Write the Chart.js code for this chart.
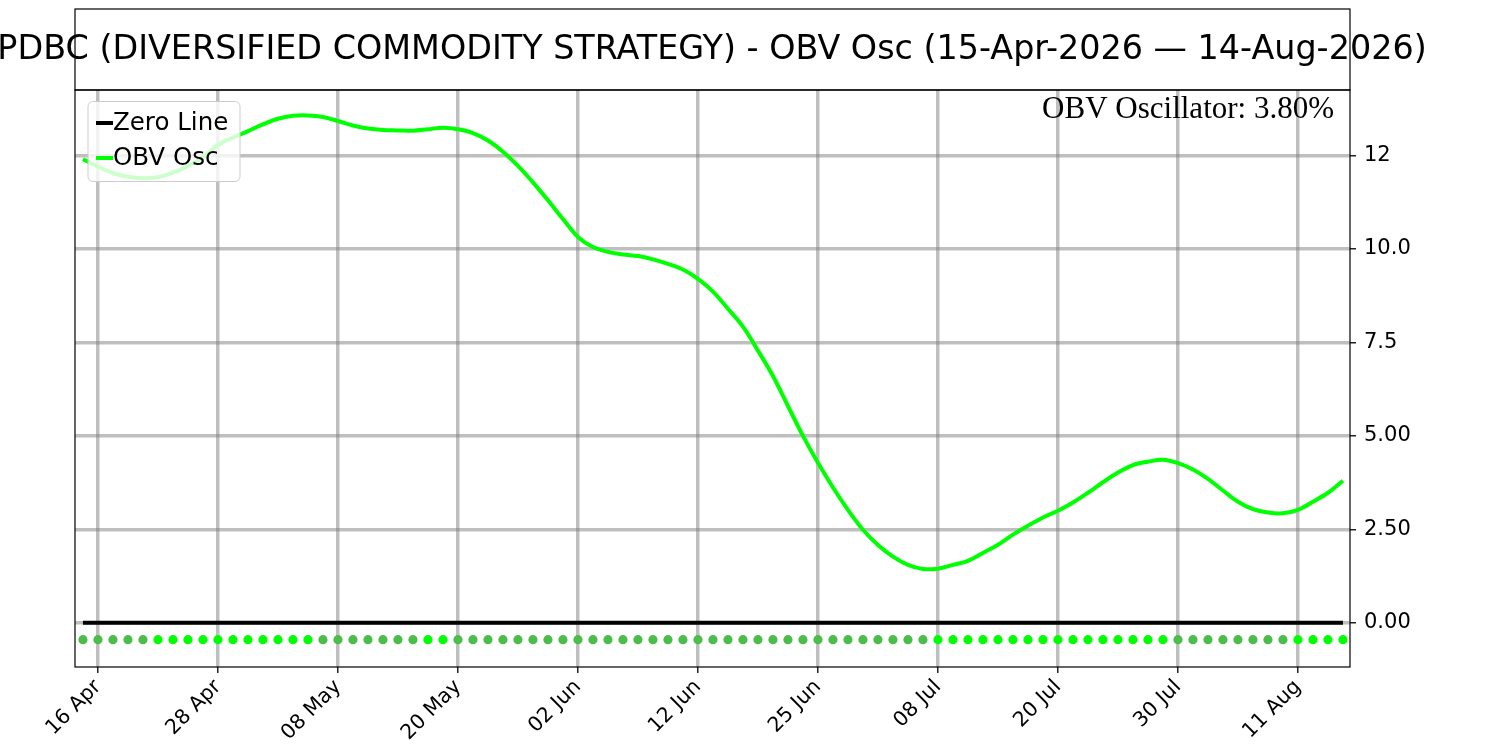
<!DOCTYPE html>
<html>
<head>
<meta charset="utf-8">
<script src="https://cdn.jsdelivr.net/npm/chart.js@4.4.1/dist/chart.umd.min.js"></script>
<style>
  html, body { margin: 0; padding: 0; background: #ffffff; }
  #wrap { width: 1500px; height: 750px; }
</style>
</head>
<body>
<div id="wrap"><canvas id="chart" width="1500" height="750"></canvas></div>
<script>
// OBV oscillator, one value per trading day (15 Apr 2026 .. 14 Aug 2026)
const obvOsc = [
    12.40, 12.20, 12.03, 11.93, 11.89, 11.92, 12.04, 12.22, 12.45, 12.78,
    12.98, 13.15, 13.33, 13.48, 13.56, 13.57, 13.53, 13.42, 13.30, 13.22,
    13.18, 13.17, 13.16, 13.20, 13.24, 13.20, 13.10, 12.90, 12.60, 12.22,
    11.78, 11.30, 10.80, 10.32, 10.05, 9.92, 9.85, 9.81, 9.72, 9.60,
    9.45, 9.20, 8.86, 8.40, 7.92, 7.28, 6.60, 5.80, 5.00, 4.28,
    3.62, 3.02, 2.49, 2.08, 1.77, 1.55, 1.44, 1.45, 1.55, 1.66,
    1.87, 2.09, 2.36, 2.60, 2.82, 3.00, 3.22, 3.48, 3.76, 4.02,
    4.22, 4.31, 4.36, 4.27, 4.10, 3.85, 3.54, 3.24, 3.04, 2.95,
    2.93, 3.02, 3.24, 3.48, 3.80
];
const zeroLevel = 0;
const signalLevel = -0.45;

// x ticks (trading-day index) and their date labels
const xTickIdx = [1, 9, 17, 25, 33, 41, 49, 57, 65, 73, 81];
const xTickLabels = ['16 Apr', '28 Apr', '08 May', '20 May', '02 Jun', '12 Jun',
                     '25 Jun', '08 Jul', '20 Jul', '30 Jul', '11 Aug'];

// y ticks and how they are printed
const yTickValues = [0, 2.5, 5, 7.5, 10, 12.5];
const yTickLabels = ['0.00', '2.50', '5.00', '7.5', '10.0', '12'];

const titleText = 'PDBC (DIVERSIFIED COMMODITY STRATEGY) - OBV Osc (15-Apr-2026 \u2014 14-Aug-2026)';
const noteText = 'OBV Oscillator: 3.80%';

const lime = '#00ff00';
const dimGreen = '#4bbd4b';

var oscPoints = obvOsc.map(function (v, i) { return { x: i, y: v }; });
var zeroPoints = obvOsc.map(function (v, i) { return { x: i, y: zeroLevel }; });
var dotPoints = obvOsc.map(function (v, i) { return { x: i, y: signalLevel }; });
// bright dot when the oscillator rises, dim when it falls
var dotColors = obvOsc.map(function (v, i) {
    if (i === 0) return obvOsc[1] > obvOsc[0] ? lime : dimGreen;
    return v > obvOsc[i - 1] ? lime : dimGreen;
});

const sans = "'DejaVu Sans', sans-serif";

var decor = {
    id: 'decor',
    afterDatasetsDraw: function (chart) {
        var ctx = chart.ctx;
        var a = chart.chartArea;
        ctx.save();
        // note text
        ctx.fillStyle = '#000';
        ctx.font = "31px 'Liberation Serif', serif";
        ctx.textAlign = 'right';
        ctx.textBaseline = 'alphabetic';
        ctx.fillText(noteText, a.right - 16, 118);

        // legend
        ctx.beginPath();
        ctx.roundRect(88, 101.5, 152, 80, 5);
        ctx.fillStyle = 'rgba(255,255,255,0.8)';
        ctx.fill();
        ctx.lineWidth = 1;
        ctx.strokeStyle = '#cccccc';
        ctx.stroke();
        var rows = [['Zero Line', '#000000', 123], ['OBV Osc', lime, 158]];
        rows.forEach(function (r) {
            ctx.beginPath();
            ctx.moveTo(96, r[2]);
            ctx.lineTo(113, r[2]);
            ctx.lineWidth = 4;
            ctx.strokeStyle = r[1];
            ctx.stroke();
            ctx.fillStyle = '#000';
            ctx.font = '24.5px ' + sans;
            ctx.textAlign = 'left';
            ctx.textBaseline = 'middle';
            ctx.fillText(r[0], 113, r[2] + 1);
        });

        // frame around plot
        ctx.lineWidth = 1.2;
        ctx.strokeStyle = '#000';
        ctx.strokeRect(a.left, a.top, a.right - a.left, a.bottom - a.top);

        // title box
        ctx.strokeRect(a.left, 9, a.right - a.left, a.top - 9);
        ctx.font = '33.4px ' + sans;
        ctx.textAlign = 'center';
        ctx.textBaseline = 'middle';
        ctx.fillText(titleText, 712, 50);
        ctx.restore();
    }
};

var chart = new Chart(document.getElementById('chart').getContext('2d'), {
    type: 'line',
    data: {
        datasets: [{
            label: 'Zero Line',
            data: zeroPoints,
            borderColor: '#000000',
            borderWidth: 4,
            pointRadius: 0,
            order: 3
        },
        {
            label: 'OBV Osc',
            data: oscPoints,
            borderColor: lime,
            borderWidth: 4,
            pointRadius: 0,
            tension: 0.35,
            order: 2
        },
        {
            label: 'Signal',
            data: dotPoints,
            showLine: false,
            pointRadius: 4.6,
            pointBorderWidth: 0,
            pointBackgroundColor: dotColors,
            pointBorderColor: dotColors,
            order: 1
        }]
    },
    options: {
        responsive: false,
        animation: false,
        devicePixelRatio: 1,
        layout: {
            padding: { left: 75, top: 90, right: 0, bottom: 0 }
        },
        plugins: {
            legend: { display: false },
            title: { display: false },
            tooltip: { enabled: false }
        },
        scales: {
            x: {
                type: 'linear',
                min: -0.53,
                max: 84.47,
                afterBuildTicks: function (scale) {
                    scale.ticks = xTickIdx.map(function (v) { return { value: v }; });
                },
                afterFit: function (scale) { scale.height = 83; },
                ticks: {
                    autoSkip: false,
                    maxRotation: 45,
                    minRotation: 45,
                    padding: 2,
                    color: '#000',
                    font: { size: 20.5, family: sans },
                    callback: function (v) {
                        var k = xTickIdx.indexOf(v);
                        return k >= 0 ? xTickLabels[k] : '';
                    }
                },
                grid: {
                    color: 'rgba(128,128,128,0.5)',
                    lineWidth: 3.5,
                    tickColor: '#222',
                    tickWidth: 1.5,
                    tickLength: 6
                },
                border: { display: false }
            },
            y: {
                type: 'linear',
                position: 'right',
                min: -1.18,
                max: 14.25,
                afterBuildTicks: function (scale) {
                    scale.ticks = yTickValues.map(function (v) { return { value: v }; });
                },
                afterFit: function (scale) { scale.width = 150; },
                ticks: {
                    padding: 8,
                    color: '#000',
                    font: { size: 21, family: sans },
                    callback: function (v) {
                        var k = yTickValues.indexOf(v);
                        return k >= 0 ? yTickLabels[k] : '';
                    }
                },
                grid: {
                    color: 'rgba(128,128,128,0.5)',
                    lineWidth: 3.5,
                    tickColor: '#222',
                    tickWidth: 1.5,
                    tickLength: 6
                },
                border: { display: false }
            }
        }
    },
    plugins: [decor]
});
</script>
</body>
</html>
